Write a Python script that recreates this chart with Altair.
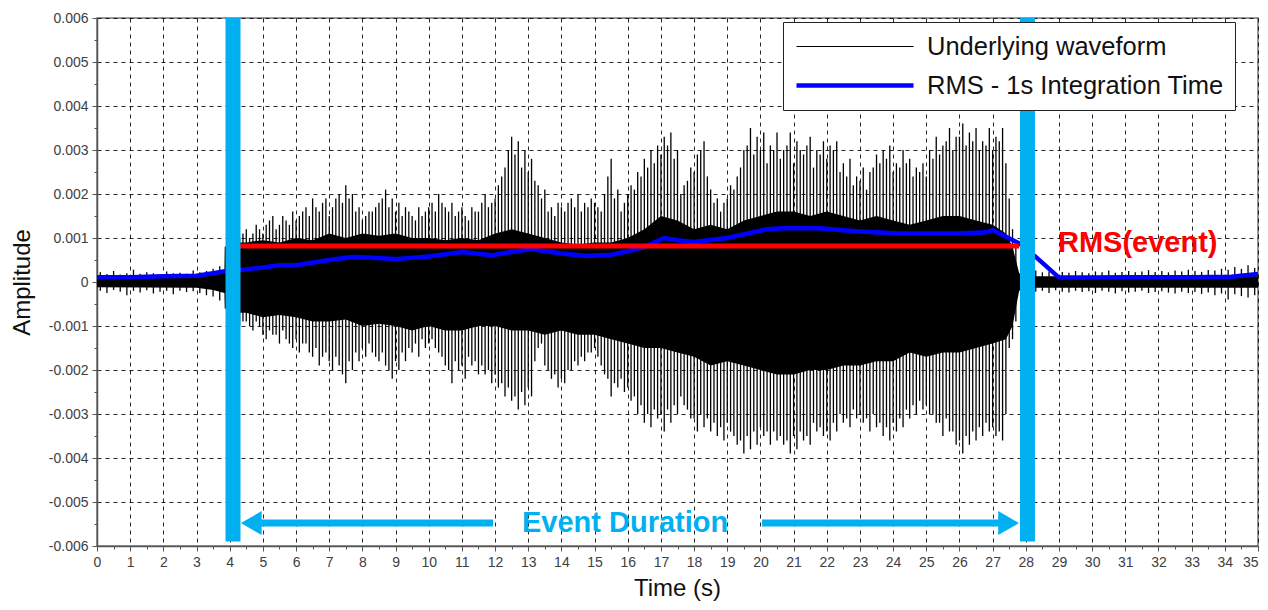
import altair as alt
import pandas as pd

FONT = "Liberation Sans"
WAVE = "Underlying waveform"
RMS = "RMS - 1s Integration Time"
CYAN = "#00b0f0"

# ---- axis ticks ----
x_ticks = list(range(0, 36))
x_minor = [k + 0.5 for k in range(35)]
y_ticks = [round(k * 0.001, 3) for k in range(-6, 7)]
y_minor = [round(k * 0.001 + 0.0005, 4) for k in range(-6, 6)]

# ---- waveform: background noise before the event (t = 0.1 .. 3.7, step 0.2) ----
pre_start = 0.1
pre_hi = [0.00022, 0.00018, 0.00025, 0.00017, 0.00020, 0.00028, 0.00019, 0.00022, 0.00020, 0.00018,
          0.00024, 0.00020, 0.00021, 0.00019, 0.00026, 0.00022, 0.00025, 0.00030, 0.00036]
pre_lo = [-0.00020, -0.00025, -0.00018, -0.00022, -0.00030, -0.00020, -0.00024, -0.00019, -0.00026, -0.00022,
          -0.00020, -0.00028, -0.00020, -0.00023, -0.00021, -0.00025, -0.00030, -0.00033, -0.00042]

# ---- waveform: event peaks (t = 4.3 .. 27.7, step 0.2) ----
ev_start = 4.3
ev_hi = [0.0010, 0.0012, 0.0011, 0.0012, 0.0013, 0.0015, 0.0013, 0.0014, 0.0016, 0.0015,
         0.0017, 0.0019, 0.0016, 0.0019, 0.0017, 0.0020, 0.0022, 0.0020, 0.0017, 0.0015,
         0.0016, 0.0018, 0.0021, 0.0019, 0.0018, 0.0017, 0.0015, 0.0017, 0.0016, 0.0018,
         0.0020, 0.0017, 0.0018, 0.0016, 0.0015, 0.0017, 0.0016, 0.0020, 0.0018, 0.0022,
         0.0026, 0.0033, 0.0032, 0.0030, 0.0028, 0.0022, 0.0021, 0.0017, 0.0018, 0.0016,
         0.0019, 0.0020, 0.0018, 0.0019, 0.0017, 0.0020, 0.0028, 0.0021, 0.0018, 0.0022,
         0.0025, 0.0028, 0.0030, 0.0031, 0.0033, 0.0034, 0.0030, 0.0022, 0.0026, 0.0029,
         0.0032, 0.0021, 0.0019, 0.0018, 0.0022, 0.0024, 0.0030, 0.0035, 0.0033, 0.0034,
         0.0031, 0.0034, 0.0030, 0.0034, 0.0032, 0.0029, 0.0033, 0.0030, 0.0032, 0.0031,
         0.0032, 0.0027, 0.0028, 0.0024, 0.0026, 0.0025, 0.0029, 0.0030, 0.0031, 0.0027,
         0.0030, 0.0028, 0.0026, 0.0027, 0.0030, 0.0033, 0.0031, 0.0035, 0.0033, 0.0036,
         0.0034, 0.0035, 0.0032, 0.0035, 0.0033, 0.0035, 0.0019, 0.0008]
ev_lo = [-0.0010, -0.0009, -0.0011, -0.0010, -0.0013, -0.0012, -0.0014, -0.0013, -0.0015, -0.0016,
         -0.0014, -0.0017, -0.0019, -0.0016, -0.0020, -0.0019, -0.0023, -0.0020, -0.0018, -0.0017,
         -0.0016, -0.0018, -0.0019, -0.0022, -0.0020, -0.0018, -0.0016, -0.0017, -0.0015, -0.0013,
         -0.0016, -0.0019, -0.0023, -0.0020, -0.0022, -0.0019, -0.0021, -0.0021, -0.0023, -0.0024,
         -0.0026, -0.0027, -0.0029, -0.0028, -0.0026, -0.0015, -0.0019, -0.0022, -0.0024, -0.0023,
         -0.0020, -0.0019, -0.0018, -0.0016, -0.0017, -0.0021, -0.0026, -0.0024, -0.0025, -0.0027,
         -0.0030, -0.0032, -0.0033, -0.0031, -0.0034, -0.0032, -0.0030, -0.0028, -0.0031, -0.0034,
         -0.0033, -0.0034, -0.0035, -0.0036, -0.0034, -0.0037, -0.0039, -0.0038, -0.0037, -0.0035,
         -0.0037, -0.0036, -0.0037, -0.0039, -0.0038, -0.0036, -0.0037, -0.0034, -0.0035, -0.0036,
         -0.0034, -0.0032, -0.0033, -0.0031, -0.0032, -0.0034, -0.0033, -0.0035, -0.0036, -0.0034,
         -0.0033, -0.0031, -0.0030, -0.0029, -0.0030, -0.0032, -0.0035, -0.0034, -0.0037, -0.0039,
         -0.0037, -0.0036, -0.0035, -0.0034, -0.0035, -0.0036, -0.0015, -0.0009]

# ---- waveform: in-between event peaks (t = 4.4 .. 27.6, step 0.2) ----
mid_start = 4.4
mid_hi = [0.0011, 0.0010, 0.0013, 0.0011, 0.0014, 0.0012, 0.0015, 0.0013, 0.0014, 0.0016,
          0.0015, 0.0017, 0.0018, 0.0015, 0.0019, 0.0018, 0.0019, 0.0016, 0.0014, 0.0016,
          0.0017, 0.0019, 0.0017, 0.0016, 0.0015, 0.0016, 0.0014, 0.0015, 0.0017, 0.0016,
          0.0018, 0.0016, 0.0015, 0.0017, 0.0014, 0.0016, 0.0018, 0.0017, 0.0019, 0.0024,
          0.0030, 0.0029, 0.0026, 0.0025, 0.0023, 0.0019, 0.0016, 0.0015, 0.0017, 0.0018,
          0.0017, 0.0016, 0.0017, 0.0018, 0.0016, 0.0024, 0.0019, 0.0016, 0.0020, 0.0021,
          0.0024, 0.0026, 0.0027, 0.0029, 0.0031, 0.0028, 0.0020, 0.0023, 0.0025, 0.0030,
          0.0024, 0.0018, 0.0016, 0.0019, 0.0021, 0.0026, 0.0031, 0.0029, 0.0030, 0.0027,
          0.0030, 0.0028, 0.0031, 0.0027, 0.0030, 0.0031, 0.0026, 0.0029, 0.0028, 0.0030,
          0.0025, 0.0024, 0.0022, 0.0023, 0.0021, 0.0026, 0.0027, 0.0028, 0.0025, 0.0026,
          0.0027, 0.0024, 0.0025, 0.0024, 0.0028, 0.0029, 0.0032, 0.0030, 0.0033, 0.0031,
          0.0032, 0.0030, 0.0031, 0.0030, 0.0032, 0.0027, 0.0012]
mid_lo = [-0.0009, -0.0010, -0.0009, -0.0012, -0.0011, -0.0012, -0.0011, -0.0014, -0.0013, -0.0014,
          -0.0016, -0.0015, -0.0017, -0.0018, -0.0017, -0.0021, -0.0018, -0.0016, -0.0015, -0.0014,
          -0.0017, -0.0016, -0.0020, -0.0018, -0.0016, -0.0015, -0.0014, -0.0013, -0.0014, -0.0015,
          -0.0017, -0.0020, -0.0018, -0.0019, -0.0017, -0.0018, -0.0019, -0.0020, -0.0021, -0.0023,
          -0.0024, -0.0026, -0.0025, -0.0024, -0.0018, -0.0014, -0.0020, -0.0021, -0.0022, -0.0020,
          -0.0018, -0.0017, -0.0016, -0.0015, -0.0019, -0.0022, -0.0023, -0.0022, -0.0024, -0.0026,
          -0.0028, -0.0030, -0.0029, -0.0030, -0.0029, -0.0028, -0.0026, -0.0029, -0.0031, -0.0030,
          -0.0031, -0.0032, -0.0033, -0.0032, -0.0035, -0.0036, -0.0035, -0.0034, -0.0033, -0.0034,
          -0.0034, -0.0035, -0.0036, -0.0035, -0.0034, -0.0035, -0.0032, -0.0033, -0.0034, -0.0032,
          -0.0030, -0.0031, -0.0029, -0.0030, -0.0031, -0.0030, -0.0032, -0.0033, -0.0032, -0.0031,
          -0.0029, -0.0028, -0.0027, -0.0028, -0.0030, -0.0032, -0.0031, -0.0034, -0.0036, -0.0035,
          -0.0034, -0.0033, -0.0032, -0.0033, -0.0034, -0.0030, -0.0013]

# ---- waveform: background noise after the event (t = 28.1 .. 34.9, step 0.2) ----
post_start = 28.1
post_hi = [0.00030, 0.00026, 0.00022, 0.00024, 0.00020, 0.00023, 0.00021, 0.00025, 0.00022, 0.00020,
           0.00024, 0.00022, 0.00026, 0.00021, 0.00023, 0.00025, 0.00022, 0.00024, 0.00027, 0.00023,
           0.00025, 0.00022, 0.00026, 0.00024, 0.00028, 0.00025, 0.00023, 0.00027, 0.00026, 0.00030,
           0.00028, 0.00034, 0.00030, 0.00038, 0.00032]
post_lo = [-0.00028, -0.00022, -0.00020, -0.00025, -0.00019, -0.00022, -0.00024, -0.00020, -0.00023, -0.00021,
           -0.00025, -0.00020, -0.00022, -0.00026, -0.00021, -0.00024, -0.00022, -0.00020, -0.00025, -0.00023,
           -0.00021, -0.00024, -0.00026, -0.00022, -0.00025, -0.00023, -0.00027, -0.00024, -0.00030, -0.00026,
           -0.00040, -0.00028, -0.00032, -0.00035, -0.00030]

# ---- waveform: dense (solid) core envelope ----
core_t = [0, 3.0, 3.5, 3.84, 3.85, 4.3,
          4.5, 5, 5.5, 6, 6.5, 7, 7.5, 8, 8.5, 9,
          9.5, 10, 10.5, 11, 11.5, 12, 12.5, 13, 13.5, 14,
          14.5, 15, 15.5, 16, 16.5, 17, 17.5, 18, 18.5, 19,
          19.5, 20, 20.5, 21, 21.5, 22, 22.5, 23, 23.5, 24,
          24.5, 25, 25.5, 26, 26.5, 27, 27.4, 27.6, 27.8, 28.3, 35]
core_hi = [0.00012, 0.00013, 0.00018, 0.00025, 0.0008, 0.0009,
           0.0009, 0.00095, 0.0009, 0.0010, 0.00095, 0.0011, 0.0010, 0.0011, 0.00105, 0.0011,
           0.0010, 0.0010, 0.00095, 0.0010, 0.00095, 0.0011, 0.0012, 0.0011, 0.0010, 0.0009,
           0.00085, 0.0009, 0.0009, 0.0010, 0.0012, 0.0015, 0.0014, 0.0012, 0.0013, 0.0012,
           0.0014, 0.0015, 0.0016, 0.0016, 0.0015, 0.0016, 0.0015, 0.0014, 0.0015, 0.0014,
           0.0013, 0.0014, 0.0015, 0.0015, 0.0014, 0.0013, 0.0011, 0.0008, 0.0002, 0.00013, 0.00013]
core_lo = [-0.00012, -0.00013, -0.00018, -0.00025, -0.0006, -0.0007,
           -0.0007, -0.0008, -0.00075, -0.0008, -0.0009, -0.0009, -0.00085, -0.0010, -0.00095, -0.0010,
           -0.0011, -0.0010, -0.0011, -0.0011, -0.0010, -0.0010, -0.0011, -0.0011, -0.0012, -0.0011,
           -0.0012, -0.0012, -0.0013, -0.0014, -0.0015, -0.0015, -0.0016, -0.0017, -0.0019, -0.0018,
           -0.0019, -0.0020, -0.0021, -0.0021, -0.0020, -0.0020, -0.0019, -0.0019, -0.0018, -0.0018,
           -0.0016, -0.0017, -0.0016, -0.0016, -0.0015, -0.0014, -0.0013, -0.0010, -0.0002, -0.00013, -0.00013]

# ---- RMS (1 s integration) ----
rms_t = [0, 1, 2, 3, 3.5, 3.9, 4.3, 5, 5.5, 6, 7, 7.7, 8, 9, 10, 11, 11.9, 12.5, 13.1, 14, 14.8,
         15.5, 16, 16.5, 17.1, 17.5, 18, 19, 20.2, 20.8, 21.8, 22.4, 23, 24.2, 25, 26, 26.8, 27.0,
         27.8, 28.3, 29.0, 30, 31, 32, 33, 34.2, 35]
rms_v = [0.00011, 0.00011, 0.00013, 0.00014, 0.00020, 0.00025, 0.00027, 0.00033, 0.00038, 0.00038,
         0.00050, 0.00057, 0.00056, 0.00052, 0.00058, 0.00068, 0.00061, 0.00068, 0.00075, 0.00065,
         0.00059, 0.00062, 0.00070, 0.00080, 0.00100, 0.00095, 0.00091, 0.00100, 0.00120, 0.00123,
         0.00122, 0.00118, 0.00115, 0.00110, 0.00110, 0.00110, 0.00113, 0.00118, 0.00088, 0.00057,
         0.00010, 0.00010, 0.00011, 0.00011, 0.00011, 0.00012, 0.00018]

# ---- event annotations ----
event_t = [4.1, 28.05]
rms_event_t = [4.3, 27.8]
rms_event_v = 0.00082
arrow_y = -0.00548
arrow_from = [4.65, 20.05]
arrow_to = [11.94, 27.48]
head_t = [4.65, 27.48]
head_shape = ["triangle-left", "triangle-right"]


def seg(start, hi, lo):
    n = min(len(hi), len(lo))
    return [(round(start + 0.2 * i, 2), hi[i], lo[i]) for i in range(n)]


rows = (seg(pre_start, pre_hi, pre_lo) + seg(ev_start, ev_hi, ev_lo)
        + seg(mid_start, mid_hi, mid_lo) + seg(post_start, post_hi, post_lo))
spike_df = pd.DataFrame(rows, columns=["t", "hi", "lo"])
spike_df["series"] = WAVE
n_core = min(len(core_t), len(core_hi), len(core_lo))
core_df = pd.DataFrame({"t": core_t[:n_core], "hi": core_hi[:n_core], "lo": core_lo[:n_core]})
rms_df = pd.DataFrame({"t": rms_t, "v": rms_v, "series": RMS})
red_df = pd.DataFrame({"t": rms_event_t, "v": [rms_event_v] * 2})
bar_df = pd.DataFrame({"t": event_t, "lo": [-0.0059] * 2, "hi": [0.006] * 2})
arrow_df = pd.DataFrame({"a": arrow_from, "b": arrow_to, "y": [arrow_y] * 2})
head_df = pd.DataFrame({"t": head_t, "y": [arrow_y] * 2, "shape": head_shape})
txt_df = pd.DataFrame({"t": [15.92, 28.97], "y": [arrow_y, 0.00089],
                       "label": ["Event Duration", "RMS(event)"]})

xs = alt.Scale(domain=[0, 35], nice=False, zero=False)
ys = alt.Scale(domain=[-0.006, 0.006], nice=False, zero=False)

common_axis = dict(grid=True, gridDash=[4, 4], gridColor="#000000", gridWidth=1, gridOpacity=0.85,
                   tickSize=5, tickColor="#555555", tickWidth=1, domainColor="#555555", domainWidth=1.5,
                   labelFontSize=14, labelColor="#404040", labelFont=FONT, labelPadding=4,
                   labelOverlap=False, titleFont=FONT, titleFontSize=24, titleFontWeight="normal",
                   titleColor="#111111")
x_axis = alt.Axis(values=x_ticks, format="d", title="Time (s)", titleX=580, titleY=49,
                  titleBaseline="alphabetic", titleAlign="center", orient="bottom",
                  labelAlign={"condition": {"test": "datum.value == 35", "value": "right"}, "value": "center"},
                  **common_axis)
y_axis = alt.Axis(values=y_ticks,
                  labelExpr="abs(datum.value) < 1e-9 ? '0' : (datum.value < 0 ? '-' + format(-datum.value, '.3f') : format(datum.value, '.3f'))",
                  title="Amplitude", titleX=-75, titleY=264, titleAngle=270,
                  titleBaseline="middle", titleAlign="center", orient="left", **common_axis)
x_minor_axis = alt.Axis(values=x_minor, labels=False, grid=False, domain=False, ticks=True, tickSize=3,
                        tickColor="#555555", title=None, orient="bottom")
y_minor_axis = alt.Axis(values=y_minor, labels=False, grid=False, domain=False, ticks=True, tickSize=3,
                        tickColor="#555555", title=None, orient="left")

color_scale = alt.Scale(domain=[WAVE, RMS], range=["#000000", "#0000ff"])
sw_scale = alt.Scale(domain=[WAVE, RMS], range=[1, 4.5])
legend = alt.Legend(title=None, orient="none", legendX=686, legendY=4, symbolType="M-1,0H8",
                    symbolSize=676, labelFontSize=25.5, labelFont=FONT, labelColor="#111111",
                    labelOffset=102, labelLimit=0, padding=11, rowPadding=10,
                    fillColor="white", strokeColor="#222222")

core = alt.Chart(core_df).mark_area(color="#000000", opacity=1).encode(
    x=alt.X("t:Q", scale=xs, axis=x_axis),
    y=alt.Y("lo:Q", scale=ys, axis=y_axis),
    y2="hi:Q",
)
spikes = alt.Chart(spike_df).mark_rule(strokeWidth=1.3).encode(
    x=alt.X("t:Q", scale=xs, axis=None),
    y=alt.Y("lo:Q", scale=ys, axis=None),
    y2="hi:Q",
    color=alt.Color("series:N", scale=color_scale, legend=legend),
)
rms = alt.Chart(rms_df).mark_line().encode(
    x=alt.X("t:Q", scale=xs, axis=None),
    y=alt.Y("v:Q", scale=ys, axis=None),
    color=alt.Color("series:N", scale=color_scale, legend=legend),
    strokeWidth=alt.StrokeWidth("series:N", scale=sw_scale, legend=legend),
)
red = alt.Chart(red_df).mark_line(color="#ff0000", strokeWidth=5, strokeCap="butt").encode(
    x=alt.X("t:Q", scale=xs, axis=x_minor_axis),
    y=alt.Y("v:Q", scale=ys, axis=y_minor_axis),
)
bars = alt.Chart(bar_df).mark_rule(color=CYAN, strokeWidth=15, strokeCap="butt").encode(
    x=alt.X("t:Q", scale=xs, axis=None),
    y=alt.Y("lo:Q", scale=ys, axis=None),
    y2="hi:Q",
)
arrows = alt.Chart(arrow_df).mark_rule(color=CYAN, strokeWidth=7, strokeCap="butt").encode(
    x=alt.X("a:Q", scale=xs, axis=None),
    x2="b:Q",
    y=alt.Y("y:Q", scale=ys, axis=None),
)
heads = alt.Chart(head_df).mark_point(filled=True, size=576, opacity=1, color=CYAN, strokeWidth=0).encode(
    x=alt.X("t:Q", scale=xs, axis=None),
    y=alt.Y("y:Q", scale=ys, axis=None),
    shape=alt.Shape("shape:N", scale=None, legend=None),
)
txt_event = alt.Chart(txt_df.iloc[[0]]).mark_text(
    font=FONT, fontSize=29, fontWeight="bold", color=CYAN, align="center", baseline="middle"
).encode(x=alt.X("t:Q", scale=xs, axis=None), y=alt.Y("y:Q", scale=ys, axis=None), text="label:N")
txt_rms = alt.Chart(txt_df.iloc[[1]]).mark_text(
    font=FONT, fontSize=29, fontWeight="bold", color="#ff0000", align="left", baseline="middle"
).encode(x=alt.X("t:Q", scale=xs, axis=None), y=alt.Y("y:Q", scale=ys, axis=None), text="label:N")

chart = alt.layer(
    core, spikes, rms, red, bars, arrows, heads, txt_event, txt_rms
).resolve_axis(
    x="independent", y="independent"
).properties(
    width=1161, height=528,
    autosize=alt.AutoSizeParams(type="none"),
    padding={"left": 89, "top": 10, "right": 2, "bottom": 56},
).configure(font=FONT).configure_view(stroke="#777777", strokeWidth=1.5)

chart.save("out.html", embed_options={"renderer": "svg", "actions": False})
